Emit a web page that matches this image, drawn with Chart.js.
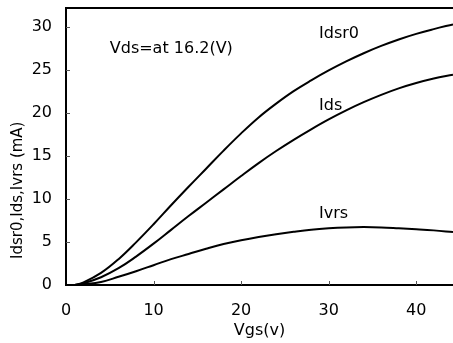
<!DOCTYPE html>
<html>
<head>
<meta charset="utf-8">
<script src="https://cdn.jsdelivr.net/npm/chart.js@4"></script>
<style>
  html, body { margin: 0; padding: 0; background: #fff; }
  #wrap { width: 453px; height: 343px; position: relative; }
</style>
</head>
<body>
<div id="wrap"><canvas id="c"></canvas></div>
<script>
const vgs    = [1, 2, 4, 6, 8, 10, 12, 14, 16, 18, 20, 22, 24, 26, 28, 30, 32, 34, 36, 38, 40, 42, 44.2];
const idsr0  = [0, 0.3, 1.4, 3.0, 4.95, 7.05, 9.25, 11.4, 13.5, 15.6, 17.6, 19.45, 21.05, 22.5, 23.75, 24.9, 25.95, 26.9, 27.75, 28.5, 29.15, 29.7, 30.25];
const ids    = [0, 0.2, 0.9, 1.95, 3.3, 4.8, 6.4, 8.0, 9.55, 11.1, 12.65, 14.15, 15.55, 16.85, 18.07, 19.22, 20.27, 21.22, 22.07, 22.82, 23.44, 23.96, 24.41];
const ivrs   = [0, 0.08, 0.35, 0.95, 1.6, 2.3, 3.0, 3.6, 4.2, 4.75, 5.2, 5.58, 5.9, 6.18, 6.42, 6.58, 6.68, 6.72, 6.68, 6.58, 6.47, 6.34, 6.15];
const xTicks = [0, 10, 20, 30, 40];
const yTicks = [0, 5, 10, 15, 20, 25, 30];
const seriesNames = ['Idsr0', 'Ids', 'Ivrs'];
const labelPos = [[28.9, 29.2], [28.9, 20.8], [28.9, 8.3]];
const noteText = 'Vds=at 16.2(V)';
const notePos = [5.0, 27.4];
const yTitle = 'Idsr0,Ids,Ivrs (mA)';
const yTitleCenter = 11.0;

const FONT = '"DejaVu Sans", Verdana, sans-serif';

function pts(ys) { return vgs.map((x, i) => ({ x: x, y: ys[i] })); }
const dsStyle = { borderColor: '#000', borderWidth: 2, pointRadius: 0, fill: false, tension: 0.4 };

const extras = {
  id: 'extras',
  afterDraw(chart) {
    const ctx = chart.ctx, a = chart.chartArea;
    const xs = chart.scales.x, ys = chart.scales.y;
    ctx.save();
    ctx.strokeStyle = '#000';
    ctx.lineWidth = 2;
    ctx.beginPath();
    ctx.moveTo(a.left - 1, a.top); ctx.lineTo(a.right, a.top);
    ctx.stroke();
    ctx.lineWidth = 1;
    ctx.strokeStyle = '#555';
    ctx.beginPath();
    xTicks.forEach(v => { if (v > 0) { const p = Math.round(xs.getPixelForValue(v)) + 0.5; ctx.moveTo(p, a.bottom); ctx.lineTo(p, a.bottom - 4); } });
    yTicks.forEach(v => { if (v > 0) { const p = Math.round(ys.getPixelForValue(v)) + 0.5; ctx.moveTo(a.left, p); ctx.lineTo(a.left + 4, p); } });
    ctx.stroke();
    ctx.fillStyle = '#000';
    ctx.font = '16px ' + FONT;
    ctx.textBaseline = 'middle';
    ctx.textAlign = 'left';
    seriesNames.forEach((n, i) => {
      ctx.fillText(n, xs.getPixelForValue(labelPos[i][0]), ys.getPixelForValue(labelPos[i][1]));
    });
    ctx.fillText(noteText, xs.getPixelForValue(notePos[0]), ys.getPixelForValue(notePos[1]));
    ctx.font = '15px ' + FONT;
    ctx.textAlign = 'center';
    ctx.translate(18, ys.getPixelForValue(yTitleCenter));
    ctx.rotate(-Math.PI / 2);
    ctx.fillText(yTitle, 0, 0);
    ctx.restore();
  }
};

new Chart(document.getElementById('c'), {
  type: 'line',
  data: {
    datasets: [
      Object.assign({ label: seriesNames[0], data: pts(idsr0) }, dsStyle),
      Object.assign({ label: seriesNames[1], data: pts(ids) }, dsStyle),
      Object.assign({ label: seriesNames[2], data: pts(ivrs) }, dsStyle)
    ]
  },
  options: {
    responsive: true,
    maintainAspectRatio: false,
    animation: false,
    layout: { padding: { top: 8, right: 0, left: 0, bottom: 0 } },
    plugins: { legend: { display: false }, tooltip: { enabled: false } },
    scales: {
      x: {
        type: 'linear', min: 0, max: 44.2,
        afterBuildTicks: s => { s.ticks = xTicks.map(v => ({ value: v })); },
        afterFit: s => { s.height = 58; s.paddingLeft = 0; s.paddingRight = 0; },
        grid: { display: true, drawOnChartArea: false, drawTicks: false, color: 'rgba(0,0,0,0)' },
        border: { display: true, color: '#000', width: 2 },
        ticks: { color: '#000', font: { family: FONT, size: 16 }, padding: 16, maxRotation: 0, autoSkip: false },
        title: { display: true, text: 'Vgs(v)', color: '#000', font: { family: FONT, size: 16 }, padding: { top: 0, bottom: 3 } }
      },
      y: {
        type: 'linear', min: 0, max: 32.15,
        afterBuildTicks: s => { s.ticks = yTicks.map(v => ({ value: v })); },
        afterFit: s => { s.width = 66; s.paddingTop = 0; s.paddingBottom = 0; },
        grid: { display: true, drawOnChartArea: false, drawTicks: false, color: 'rgba(0,0,0,0)' },
        border: { display: true, color: '#000', width: 2 },
        ticks: { color: '#000', font: { family: FONT, size: 16 }, padding: 14 },
        title: { display: false }
      }
    }
  },
  plugins: [extras]
});
</script>
</body>
</html>
